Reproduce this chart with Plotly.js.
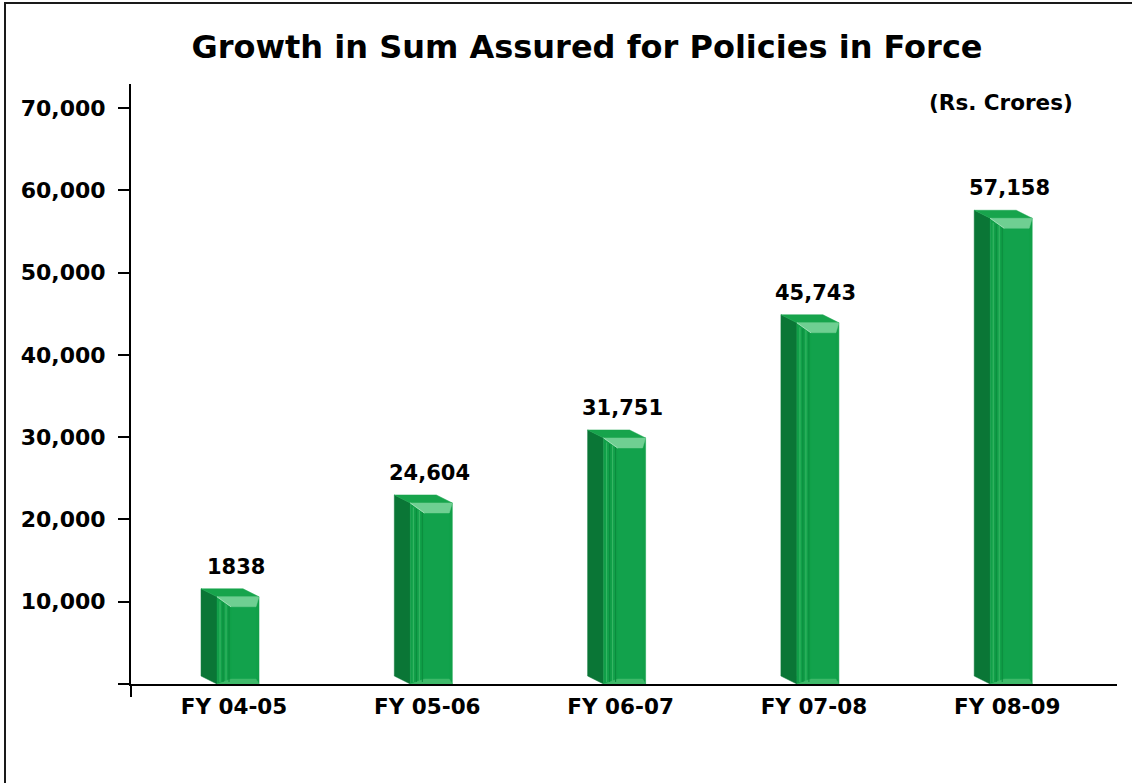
<!DOCTYPE html>
<html>
<head>
<meta charset="utf-8">
<script src="https://cdn.plot.ly/plotly-3.0.1.min.js"></script>
<style>
  html, body { margin: 0; padding: 0; background: #fff; overflow: hidden; }
  #chart { width: 1132px; height: 783px; position: absolute; left: 0; top: 0; }
  #frame { position: absolute; left: 4px; top: 2px; width: 1200px; height: 900px;
           border-left: 2px solid #1a1a1a; border-top: 2px solid #1a1a1a; pointer-events: none; }
</style>
</head>
<body>
<div id="chart"></div>
<div id="frame"></div>
<script>
// ---- data ----
const categories = ["FY 04-05", "FY 05-06", "FY 06-07", "FY 07-08", "FY 08-09"];
const barValues = [10600, 22000, 29900, 43900, 56600];          // drawn bar heights (Rs. Crores)
const valueLabels = ["1838", "24,604", "31,751", "45,743", "57,158"];
const yTickValues = [0, 10000, 20000, 30000, 40000, 50000, 60000, 70000];
const yTickLabels = ["", "10,000", "20,000", "30,000", "40,000", "50,000", "60,000", "70,000"];

// ---- layout geometry / style ----
const W = 1132, H = 783;
const M = { l: 131, r: 15, t: 84, b: 99 };
const plotW = W - M.l - M.r, plotH = H - M.t - M.b;
const xRange = [-0.533, 4.568];
const yRange = [0, 72914];
const pxX = plotW / (xRange[1] - xRange[0]);   // px per category unit
const pxY = plotH / (yRange[1] - yRange[0]);   // px per value unit
const ux = p => p / pxX;   // px -> x units
const uy = p => p / pxY;   // px -> y units

const FONT = "DejaVu Sans, Verdana, sans-serif";
const C_SIDE = "#0a7636", C_FRONT = "#11a049", C_TOP = "#17a44c",
      C_LIP = "#6fcf92", C_STRIPE_L = "#3cb868", C_STRIPE_D = "#0b8a3d", C_PANEL = "#12a24c";

const traces = [];
function poly(xs, ys, color, lineColor, lw) {
  traces.push({
    type: "scatter", mode: "lines", fill: "toself", fillcolor: color,
    x: xs.concat([xs[0]]), y: ys.concat([ys[0]]),
    line: { color: lineColor || color, width: lw || 0.5 },
    hoverinfo: "skip", showlegend: false
  });
}
function seg(xs, ys, color, w) {
  traces.push({ type: "scatter", mode: "lines", x: xs, y: ys,
    line: { color: color, width: w }, hoverinfo: "skip", showlegend: false });
}

const FL = ux(-17), FR = ux(25), DX = ux(-16), DY = uy(8);
barValues.forEach((v, i) => {
  const c = i;
  const xl = c + FL, xr = c + FR;
  // side face (dark)
  poly([xl + DX, xl, xl, xl + DX], [DY, 0, v, v + DY], C_SIDE);
  // front face
  poly([xl, xr, xr, xl], [0, 0, v, v], C_FRONT);
  // top face
  poly([xl, xr, xr + DX, xl + DX], [v, v, v + DY, v + DY], C_TOP);
  // inner panel
  const pl = xl + ux(14), pr = xr - ux(3), pt = v - uy(10), pb = uy(5);
  poly([pl, pr, pr, pl], [pb, pb, pt, pt], C_PANEL);
  // top lip (light bevel)
  poly([xl, xr, pr, pl], [v, v, pt, pt], C_LIP);
  // bottom lip
  poly([xl, xr, pr, pl], [0, 0, pb, pb], "#3fb96a");
  // vertical stripes on left part of front face
  [3, 6, 9, 12].forEach((o, k) => {
    seg([xl + ux(o), xl + ux(o)], [uy(2), v - uy(3 + o * 0.5)], k % 2 ? C_STRIPE_D : C_STRIPE_L, 1);
  });
  // slanted lip edge
  seg([xl, pl], [v, pt], "#9fe0b6", 1);
});

const annotations = valueLabels.map((t, i) => ({
  x: i + 0.01, y: barValues[i], xref: "x", yref: "y", yshift: 30,
  text: t, showarrow: false, yanchor: "middle", xanchor: "center",
  font: { family: FONT, size: 21, weight: "bold", color: "#000" }
}));
annotations.push({
  xref: "paper", yref: "paper", x: (1001 - M.l) / plotW, y: (H - M.b - 102) / plotH,
  text: "(Rs. Crores)", showarrow: false, xanchor: "center", yanchor: "middle",
  font: { family: FONT, size: 21.5, weight: "bold", color: "#000" }
});

const layout = {
  width: W, height: H,
  margin: M,
  paper_bgcolor: "#fff", plot_bgcolor: "#fff",
  title: {
    text: "Growth in Sum Assured for Policies in Force",
    xref: "container", yref: "container", x: 587 / W, y: 1 - 47 / H,
    xanchor: "center", yanchor: "middle",
    font: { family: FONT, size: 32, weight: "bold", color: "#000" }
  },
  xaxis: {
    range: xRange, tickmode: "array", tickvals: categories.map((_, i) => i), ticktext: categories,
    showgrid: false, zeroline: false, showline: true, linecolor: "#000", linewidth: 2,
    ticks: "", tickfont: { family: FONT, size: 21.5, weight: "bold", color: "#000" },
    ticklabelstandoff: 2,
    fixedrange: true
  },
  yaxis: {
    range: yRange, tickmode: "array", tickvals: yTickValues, ticktext: yTickLabels,
    showgrid: false, zeroline: false, showline: true, linecolor: "#000", linewidth: 2,
    ticks: "outside", ticklen: 11, tickwidth: 2, tickcolor: "#000",
    tickfont: { family: FONT, size: 22, weight: "bold", color: "#000" },
    ticklabelstandoff: 8,
    fixedrange: true
  },
  shapes: [
    { type: "line", xref: "paper", yref: "paper", x0: 0, x1: 0, y0: 0, y1: -13 / plotH,
      line: { color: "#000", width: 2 } }
  ],
  annotations: annotations,
  showlegend: false
};

Plotly.newPlot("chart", traces, layout, { staticPlot: true, displayModeBar: false });
</script>
</body>
</html>
